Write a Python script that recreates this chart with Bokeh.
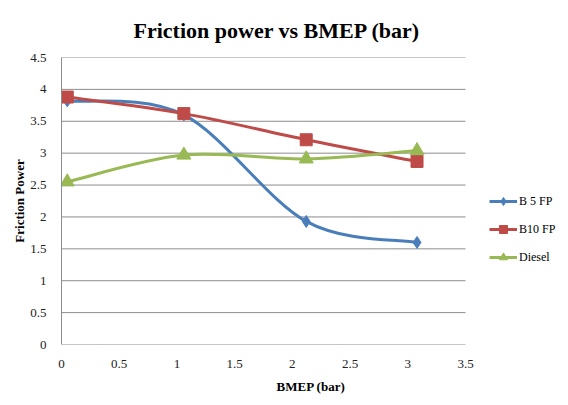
from bokeh.plotting import figure
from bokeh.models import FixedTicker, Legend, LegendItem, ColumnDataSource
from bokeh.embed import file_html
from bokeh.resources import INLINE

bmep = [0.05, 1.06, 2.12, 3.08]
b5_fp = [3.82, 3.60, 1.93, 1.60]
b10_fp = [3.88, 3.62, 3.21, 2.87]
diesel = [2.55, 2.97, 2.91, 3.04]
series_names = ["B 5 FP", "B10 FP", "Diesel"]
colors = ["#4A7EBB", "#BE4B48", "#98B954"]
markers = ["diamond", "square", "triangle"]

x_ticks = [0, 0.5, 1, 1.5, 2, 2.5, 3, 3.5]
x_tick_labels = ["0", "0.5", "1", "1.5", "2", "2.5", "3", "3.5"]
y_ticks = [0, 0.5, 1, 1.5, 2, 2.5, 3, 3.5, 4, 4.5]
y_tick_labels = ["0", "0.5", "1", "1.5", "2", "2.5", "3", "3.5", "4", "4.5"]

SERIF = "Liberation Serif"
NAN = float("nan")
W, H = 560, 405
LEFT, BOTTOM, TOP = 61, 61, 56
X_MAX = x_ticks[-1]
# frame extends right to host the legend; axis scale kept at 404px per 3.5 units
X_VIEW = X_MAX * (W - LEFT) / 404

p = figure(width=W, height=H, x_range=(0, X_VIEW), y_range=(0, y_ticks[-1]),
           output_backend="svg", toolbar_location=None,
           min_border_left=LEFT, min_border_right=0, min_border_bottom=BOTTOM, min_border_top=TOP)
p.title.text = "Friction power vs BMEP (bar)"
p.title.text_font = SERIF
p.title.text_font_size = "22px"
p.title.text_font_style = "bold"
p.title.align = "left"
p.title.offset = 72
p.title.standoff = 30
p.title.text_color = "#000000"
p.outline_line_color = None

p.xgrid.grid_line_color = None
p.ygrid.grid_line_color = None

# horizontal gridlines (incl. the x-axis line) limited to the axis extent
p.segment(x0=[0] * len(y_ticks), x1=[X_MAX] * len(y_ticks), y0=y_ticks, y1=y_ticks,
          line_color="#8C8C8C", line_width=1)

p.xaxis.ticker = FixedTicker(ticks=x_ticks)
p.yaxis.ticker = FixedTicker(ticks=y_ticks)
p.xaxis.major_label_overrides = dict(zip(x_ticks, x_tick_labels))
p.yaxis.major_label_overrides = dict(zip(y_ticks, y_tick_labels))
for ax in (p.xaxis, p.yaxis):
    ax.axis_line_color = "#8C8C8C"
    ax.major_tick_line_color = None
    ax.minor_tick_line_color = None
    ax.major_tick_out = 0
    ax.major_tick_in = 0
    ax.major_label_text_font = SERIF
    ax.major_label_text_font_size = "13px"
    ax.major_label_text_color = "#222222"
    ax.axis_label_text_font = SERIF
    ax.axis_label_text_font_style = "bold"
    ax.axis_label_text_color = "#000000"
p.xaxis.axis_line_color = None
p.xaxis.axis_label = "BMEP (bar)"
p.yaxis.axis_label = "Friction Power"
p.xaxis.axis_label_text_font_size = "13px"
p.yaxis.axis_label_text_font_size = "13px"
p.xaxis.major_label_standoff = 15
p.yaxis.major_label_standoff = 15
p.xaxis.axis_label_standoff = 8
p.yaxis.axis_label_standoff = 0


def bezier_segments(xs, ys):
    n = len(xs)
    seg = dict(x0=[], y0=[], x1=[], y1=[], cx0=[], cy0=[], cx1=[], cy1=[])
    for i in range(n - 1):
        i0 = max(i - 1, 0)
        i3 = min(i + 2, n - 1)
        seg["x0"].append(xs[i]); seg["y0"].append(ys[i])
        seg["x1"].append(xs[i + 1]); seg["y1"].append(ys[i + 1])
        seg["cx0"].append(xs[i] + (xs[i + 1] - xs[i0]) / 6)
        seg["cy0"].append(ys[i] + (ys[i + 1] - ys[i0]) / 6)
        seg["cx1"].append(xs[i + 1] - (xs[i3] - xs[i]) / 6)
        seg["cy1"].append(ys[i + 1] - (ys[i3] - ys[i]) / 6)
    return seg


for name, ys, c, m in zip(series_names, [b5_fp, b10_fp, diesel], colors, markers):
    src = ColumnDataSource(bezier_segments(bmep, ys))
    p.bezier(x0="x0", y0="y0", x1="x1", y1="y1", cx0="cx0", cy0="cy0", cx1="cx1", cy1="cy1",
             source=src, line_color=c, line_width=3)
    sz = 12 if m == "diamond" else (12 if m == "square" else 14)
    p.scatter(bmep, ys, marker=m, size=sz, fill_color=c, line_color=c)

leg_items = []
for name, c, m in zip(series_names, colors, markers):
    lr = p.line([NAN], [NAN], line_color=c, line_width=3)
    mr = p.scatter([NAN], [NAN], marker=m, size=9, fill_color=c, line_color=c)
    leg_items.append(LegendItem(label=name, renderers=[lr, mr]))

legend = Legend(items=leg_items, location=(428, 77), orientation="vertical",
                glyph_width=28, glyph_height=20, label_height=20, spacing=8,
                padding=0, margin=0, label_standoff=2,
                label_text_font=SERIF, label_text_font_size="12px",
                label_text_color="#000000",
                border_line_color=None, background_fill_alpha=0)
p.add_layout(legend)

open("out.html", "w").write(file_html(p, INLINE))
